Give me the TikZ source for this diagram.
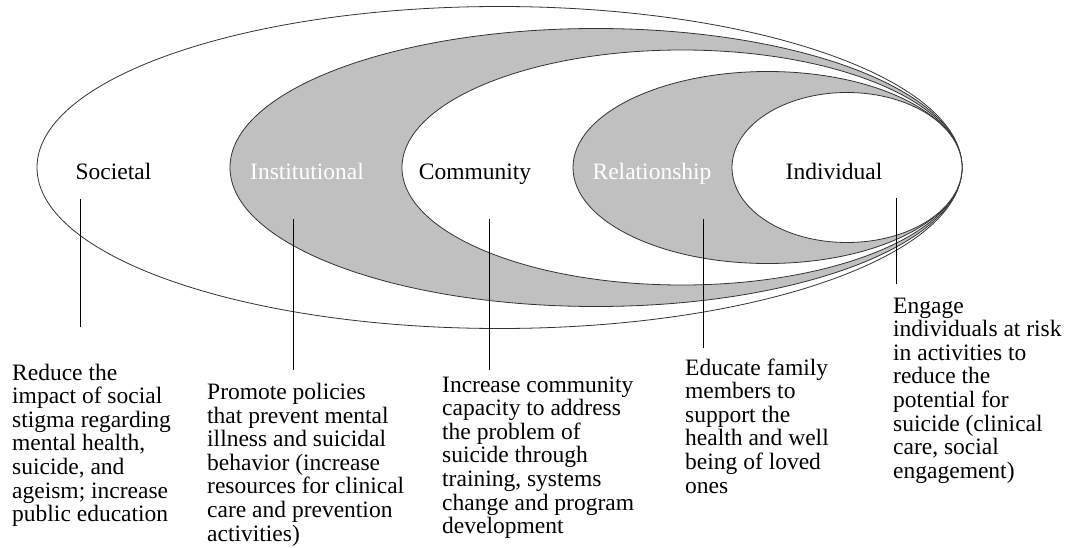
\documentclass[tikz,border=0pt]{standalone}
\usepackage{fontspec}
\setmainfont{Liberation Serif}
\usepackage{xcolor}
\definecolor{ringgray}{HTML}{C0C0C0}
\usepackage{tikz}
\usetikzlibrary{shapes.geometric}
\tikzset{
  ring/.style ={ellipse, draw=black!80, line width=0.8pt, inner sep=0pt, fill=white},
  gring/.style={ring, fill=ringgray},
  lvl/.style  ={font=\fontsize{23.5}{23.6}\selectfont, anchor=base, inner sep=0pt},
  lvlw/.style ={lvl, text=white},
  note/.style ={font=\fontsize{23.5}{23.6}\selectfont, align=left, anchor=base west,
                inner sep=0pt},
  lead/.style ={line width=1pt, black},
}

\begin{document}
\begin{tikzpicture}[x=1pt,y=-1pt]
  \useasboundingbox (0,0) rectangle (1067,548);
  % nested levels, all touching on the right
  \node[ring,  minimum width=925pt, minimum height=322pt] (soc) at (499.5,167.5) {};
  \node[gring, minimum width=732pt, minimum height=278pt] (ins) at (596,167.5) {};
  \node[ring,  minimum width=560pt, minimum height=235pt] (com) at (682,167.5) {};
  \node[gring, minimum width=389pt, minimum height=192pt] (rel) at (767.5,167.5) {};
  \node[ring,  minimum width=230pt, minimum height=150pt] (ind) at (847,167.5) {};
  \node[lvl]  (socl) at (113.5,179) {Societal};
  \node[lvlw] (insl) at (307,179)   {Institutional};
  \node[lvl]  (coml) at (475,179)   {Community};
  \node[lvlw] (rell) at (652,179)   {Relationship};
  \node[lvl]  (indl) at (834,179)   {Individual};
  % leader lines
  \foreach \n/\x/\ya/\yb in {soc/80/199/327, ins/293/219/370, com/489/219/370,
                              rel/703/219/348, ind/896/198/284}{
    \coordinate (\n A) at (\x,\ya);
    \coordinate (\n B) at (\x,\yb);
    \draw[lead] (\n A) -- (\n B);
  }
  % strategies (placed by the baseline of their last line)
  \node[note] (socn) at (12,521.6)  {Reduce the\\impact of social\\stigma regarding\\mental health,\\suicide, and\\ageism; increase\\public education};
  \node[note] (insn) at (207,541)   {Promote policies\\that prevent mental\\illness and suicidal\\behavior (increase\\resources for clinical\\care and prevention\\activities)};
  \node[note] (comn) at (442,533.6) {Increase community\\capacity to address\\the problem of\\suicide through\\training, systems\\change and program\\development};
  \node[note] (reln) at (685,493)   {Educate family\\members to\\support the\\health and well\\being of loved\\ones};
  \node[note] (indn) at (893,478.2) {Engage\\individuals at risk\\in activities to\\reduce the\\potential for\\suicide (clinical\\care, social\\engagement)};
\end{tikzpicture}
\end{document}
